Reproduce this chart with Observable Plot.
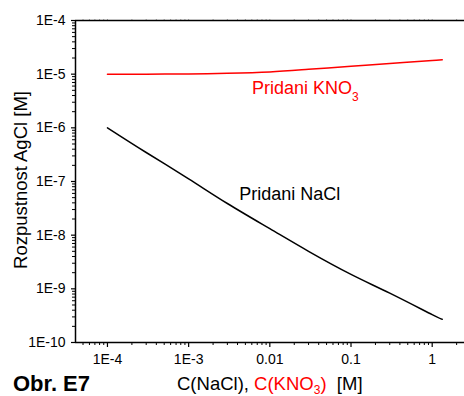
<!DOCTYPE html>
<html><head><meta charset="utf-8">
<script src="https://cdn.jsdelivr.net/npm/d3@7"></script>
<script src="https://cdn.jsdelivr.net/npm/@observablehq/plot@0.6"></script>
<style>body{margin:0;background:#fff} svg{display:block}</style>
</head><body><div id="chart"></div>
<script>
// Concentration of added salt [M]
const concentrations = [1e-4, 3e-4, 1e-3, 3e-3, 0.01, 0.03, 0.1, 0.3, 1, 1.33];
// AgCl solubility [M] with added NaCl
const solubilityNaCl = [1e-6, 3.47e-7, 1.12e-7, 3.89e-8, 1.32e-8, 5.0e-9, 1.86e-9, 8.3e-10, 3.3e-10, 2.7e-10];
// AgCl solubility [M] with added KNO3
const solubilityKNO3 = [1.0e-5, 1.0e-5, 1.01e-5, 1.04e-5, 1.1e-5, 1.23e-5, 1.4e-5, 1.58e-5, 1.79e-5, 1.85e-5];

const xTickValues = [1e-4, 1e-3, 1e-2, 1e-1, 1];
const xTickLabels = ["1E-4", "1E-3", "0.01", "0.1", "1"];
const yTickValues = [1e-10, 1e-9, 1e-8, 1e-7, 1e-6, 1e-5, 1e-4];
const yTickLabels = ["1E-10", "1E-9", "1E-8", "1E-7", "1E-6", "1E-5", "1E-4"];

const xDomain = [4.04e-5, 2.5];
const yDomain = [1e-10, 1e-4];

const minorTicks = (lo, hi, dom) => {
  const out = [];
  for (let e = lo; e <= hi; e++) for (let m = 2; m <= 9; m++) {
    const v = m * Math.pow(10, e);
    if (v >= dom[0] && v <= dom[1]) out.push(v);
  }
  return out;
};
const xMinor = minorTicks(-5, 0, xDomain);
const yMinor = minorTicks(-10, -5, yDomain);

const nacl = concentrations.map((c, i) => ({c, s: solubilityNaCl[i]}));
const kno3 = concentrations.map((c, i) => ({c, s: solubilityKNO3[i]}));

const font = "'Liberation Sans', Arial, sans-serif";

const chart = Plot.plot({
  width: 464,
  height: 396,
  marginLeft: 75,
  marginRight: 0,
  marginTop: 20,
  marginBottom: 54,
  style: {fontFamily: font, fontSize: "14px", color: "black", background: "white"},
  x: {type: "log", domain: xDomain},
  y: {type: "log", domain: yDomain},
  marks: [
    Plot.axisX({anchor: "top", ticks: [...xTickValues, ...xMinor], tickSize: 2, text: null, label: null, stroke: "#aaa"}),
    Plot.axisX({ticks: xMinor, tickSize: 3, text: null, label: null, strokeWidth: 1}),
    Plot.axisX({ticks: xTickValues, tickSize: 5, tickPadding: 7, strokeWidth: 1.2, label: null,
      tickFormat: d => xTickLabels[xTickValues.indexOf(d)], fontSize: 14}),
    Plot.axisY({ticks: yMinor, tickSize: 3, text: null, label: null, strokeWidth: 1}),
    Plot.axisY({ticks: yTickValues, tickSize: 4, tickPadding: 6, strokeWidth: 1.2, label: null,
      tickFormat: d => yTickLabels[yTickValues.indexOf(d)], fontSize: 14}),
    Plot.ruleY([yDomain[1]], {stroke: "black", strokeWidth: 1.5}),
    Plot.ruleY([yDomain[0]], {stroke: "black", strokeWidth: 1.5}),
    Plot.ruleX([xDomain[0]], {stroke: "black", strokeWidth: 1.5}),
    Plot.line(nacl, {x: "c", y: "s", stroke: "black", strokeWidth: 1.5, curve: "natural"}),
    Plot.line(kno3, {x: "c", y: "s", stroke: "#ff0000", strokeWidth: 1.5, curve: "natural"})
  ]
});

document.getElementById("chart").appendChild(chart);

const svg = d3.select(chart);
const sx = chart.scale("x"), sy = chart.scale("y");

// Curve labels, anchored in data space (start, baseline)
const curveLabels = [
  {text: "Pridani NaCl", sub: null, c: 4.25e-3, s: 4.43e-8, color: "black"},
  {text: "Pridani KNO", sub: "3", c: 6.1e-3, s: 4.2e-6, color: "#ff0000"}
];
for (const l of curveLabels) {
  const t = svg.append("text")
    .attr("x", sx.apply(l.c)).attr("y", sy.apply(l.s))
    .attr("text-anchor", "start")
    .attr("fill", l.color).attr("font-family", font).attr("font-size", 18)
    .text(l.text);
  if (l.sub) t.append("tspan").attr("font-size", 12).attr("dy", 7).text(l.sub);
}

// Y axis title
svg.append("text")
  .attr("transform", "translate(27,180) rotate(-90)")
  .attr("text-anchor", "middle").attr("font-family", font).attr("font-size", 18.5)
  .attr("fill", "black").text("Rozpustnost AgCl [M]");

// X axis title
const xt = svg.append("text")
  .attr("x", 177).attr("y", 390).attr("text-anchor", "start")
  .attr("font-family", font).attr("font-size", 18.5).attr("fill", "black");
xt.append("tspan").text("C(NaCl), ");
xt.append("tspan").attr("fill", "#ff0000").text("C(KNO");
xt.append("tspan").attr("fill", "#ff0000").attr("font-size", 12).attr("dy", 4).text("3");
xt.append("tspan").attr("fill", "#ff0000").attr("dy", -4).text(")");
xt.append("tspan").text("\u00a0\u00a0[M]");

// Figure tag
svg.append("text")
  .attr("x", 13).attr("y", 391).attr("text-anchor", "start")
  .attr("font-family", font).attr("font-size", 22)
  .attr("font-weight", "bold").attr("fill", "black").text("Obr. E7");
</script>
</body></html>
